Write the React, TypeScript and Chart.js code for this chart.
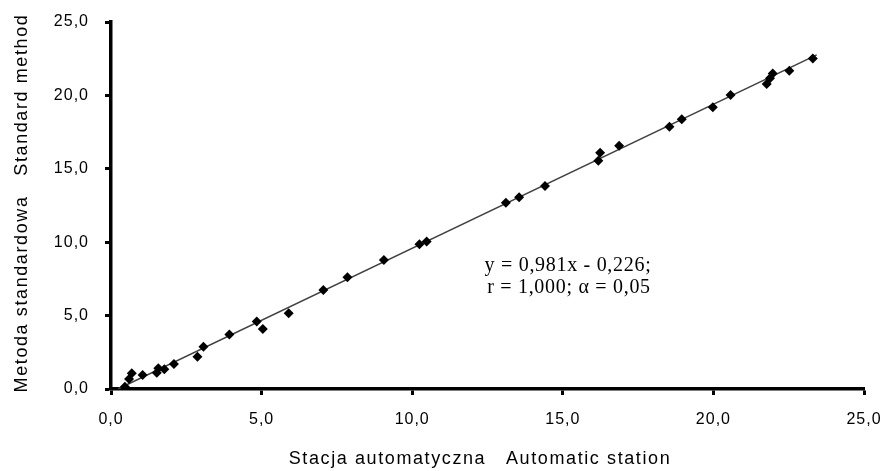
import React, { useEffect, useRef } from "react";
import { Chart, registerables } from "chart.js";

Chart.register(...registerables);

const stationX = [0.46, 0.6, 0.69, 1.05, 1.52, 1.57, 1.77, 2.09, 2.87, 3.07, 3.93, 4.84, 5.04, 5.9, 7.05, 7.85, 9.06, 10.24, 10.48, 13.11, 13.55, 14.41, 16.18, 16.24, 16.87, 18.54, 18.95, 19.98, 20.57, 21.77, 21.88, 21.97, 22.52, 23.3];
const standardY = [0.16, 0.68, 1.07, 0.95, 1.11, 1.41, 1.34, 1.7, 2.2, 2.88, 3.72, 4.59, 4.09, 5.16, 6.74, 7.61, 8.79, 9.86, 10.04, 12.69, 13.06, 13.83, 15.55, 16.1, 16.57, 17.87, 18.37, 19.19, 20.03, 20.78, 21.16, 21.5, 21.68, 22.52];
const trendX = [0.23, 23.43];
const slope = 0.981;
const intercept = -0.226;
const axisTicks = [0, 5, 10, 15, 20, 25];
const xTitle = "Stacja automatyczna   Automatic station";
const yTitle = "Metoda standardowa   Standard method";
const eqLines = ["y = 0,981x - 0,226;", "r = 1,000; α = 0,05"];

const fmt = (v: number) => v.toFixed(1).replace(".", ",");
const SANS = "'Liberation Sans', Arial, sans-serif";
const SERIF = "'Liberation Serif', 'Times New Roman', serif";

export default function App() {
  const ref = useRef<HTMLCanvasElement>(null);
  useEffect(() => {
    const ctx = ref.current!.getContext("2d")!;
    const textPlugin = {
      id: "texts",
      beforeDraw(chart: any) {
        (chart.ctx as any).letterSpacing = "1px";
      },
      afterDraw(chart: any) {
        const c: any = chart.ctx;
        c.save();
        c.fillStyle = "#000";
        c.letterSpacing = "1.6px";
        c.font = `18px ${SANS}`;
        c.textAlign = "center";
        c.textBaseline = "alphabetic";
        c.fillText(xTitle, 480, 464);
        c.save();
        c.translate(27, 203);
        c.rotate(-Math.PI / 2);
        c.fillText(yTitle, 0, 0);
        c.restore();
        c.letterSpacing = "0.7px";
        c.font = `20px ${SERIF}`;
        c.fillText(eqLines[0], 568, 271);
        c.fillText(eqLines[1], 569, 293);
        c.restore();
      },
    };
    const chart = new Chart(ctx, {
      type: "scatter",
      data: {
        datasets: [
          {
            label: "trend",
            type: "line",
            data: trendX.map((x) => ({ x, y: slope * x + intercept })),
            borderColor: "#404040",
            borderWidth: 1.5,
            pointRadius: 0,
            fill: false,
            order: 2,
          } as any,
          {
            label: "data",
            data: stationX.map((x, i) => ({ x, y: standardY[i] })),
            pointStyle: "rectRot",
            pointRadius: 5,
            backgroundColor: "#000",
            borderColor: "#000",
            borderWidth: 0,
            order: 1,
          },
        ],
      },
      options: {
        animation: false,
        responsive: false,
        layout: { padding: { left: 0, top: 22, right: 18, bottom: 0 } },
        plugins: { legend: { display: false }, tooltip: { enabled: false } },
        scales: {
          x: {
            type: "linear",
            min: 0,
            max: 25,
            afterBuildTicks: (s: any) => {
              s.ticks = axisTicks.map((v) => ({ value: v }));
            },
            afterFit: (s: any) => {
              s.height = 82;
              s.paddingLeft = 0;
              s.paddingRight = 0;
            },
            border: { display: true, color: "#000", width: 3.5 },
            grid: { drawOnChartArea: false, drawTicks: true, tickLength: 6, tickColor: "#000", tickWidth: 3, color: "#000" },
            ticks: {
              color: "#000",
              padding: 15,
              maxRotation: 0,
              font: { family: SANS, size: 16 },
              callback: (v: any) => fmt(Number(v)),
            },
          },
          y: {
            type: "linear",
            min: 0,
            max: 25,
            afterBuildTicks: (s: any) => {
              s.ticks = axisTicks.map((v) => ({ value: v }));
            },
            afterFit: (s: any) => {
              s.width = 111;
              s.paddingTop = 0;
              s.paddingBottom = 0;
            },
            border: { display: true, color: "#000", width: 3.5 },
            grid: { drawOnChartArea: false, drawTicks: true, tickLength: 6, tickColor: "#000", tickWidth: 3, color: "#000" },
            ticks: {
              color: "#000",
              padding: 16,
              font: { family: SANS, size: 16 },
              callback: (v: any) => fmt(Number(v)),
            },
          },
        },
      },
      plugins: [textPlugin],
    } as any);
    return () => chart.destroy();
  }, []);
  return (
    <div style={{ position: "fixed", left: 0, top: 0, width: 882, height: 471, background: "#fff" }}>
      <canvas ref={ref} width={882} height={471} style={{ width: 882, height: 471, display: "block" }} />
    </div>
  );
}
